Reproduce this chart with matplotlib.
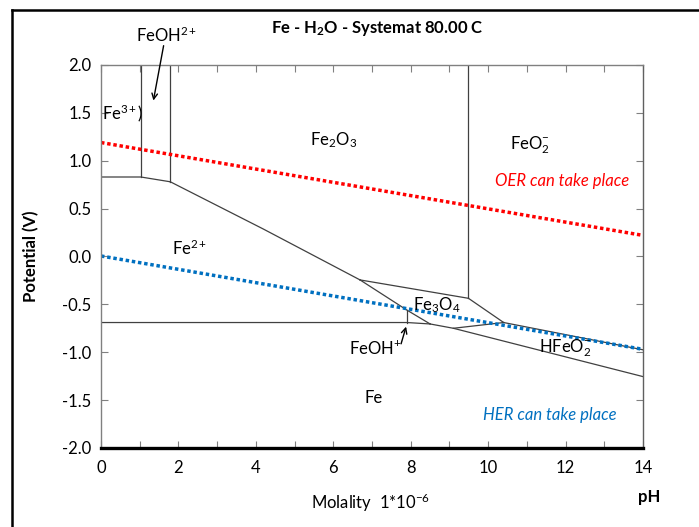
import numpy as np
import matplotlib.pyplot as plt
from matplotlib.lines import Line2D

plt.rcParams['font.family'] = ['Lato', 'DejaVu Sans']
plt.rcParams['mathtext.fontset'] = 'custom'
plt.rcParams['mathtext.rm'] = 'Lato'
plt.rcParams['mathtext.it'] = 'Lato:italic'
plt.rcParams['mathtext.bf'] = 'Lato:bold'

# boundary lines of the Pourbaix diagram (pH, E in V)
fe3_fe2_ph = [0.0, 1.03, 1.79]
fe3_fe2_e = [0.83, 0.83, 0.78]
fe3_feoh_ph = [1.03, 1.03]
fe3_feoh_e = [2.0, 0.83]
feoh_fe2o3_ph = [1.79, 1.79]
feoh_fe2o3_e = [2.0, 0.78]
fe2_fe2o3_ph = [1.79, 4.19, 6.69]
fe2_fe2o3_e = [0.78, 0.287, -0.245]
fe2_fe3o4_ph = [6.69, 7.90, 8.50]
fe2_fe3o4_e = [-0.245, -0.56, -0.705]
fe2o3_fe3o4_ph = [6.69, 9.49]
fe2o3_fe3o4_e = [-0.245, -0.437]
fe2o3_feo2_ph = [9.49, 9.49]
fe2o3_feo2_e = [2.0, -0.437]
fe3o4_feo2_ph = [9.49, 10.40]
fe3o4_feo2_e = [-0.437, -0.69]
hfeo2_feo2_ph = [10.40, 14.0]
hfeo2_feo2_e = [-0.69, -0.975]
fe3o4_hfeo2_ph = [9.10, 10.40]
fe3o4_hfeo2_e = [-0.75, -0.69]
fe2_fe_ph = [0.0, 7.90, 8.50]
fe2_fe_e = [-0.69, -0.69, -0.705]
feoh_v_ph = [7.90, 7.90]
feoh_v_e = [-0.56, -0.69]
fe_low_ph = [8.50, 9.10, 14.0]
fe_low_e = [-0.705, -0.75, -1.255]

# water stability lines
oer_ph = [0.0, 14.0]
oer_e = [1.19, 0.22]
her_ph = [0.0, 14.0]
her_e = [0.005, -0.97]

xticks = [0, 2, 4, 6, 8, 10, 12, 14]
yticks = [2.0, 1.5, 1.0, 0.5, 0.0, -0.5, -1.0, -1.5, -2.0]

fig = plt.figure(figsize=(6.99, 5.27), dpi=100)
ax = fig.add_axes([0.1445, 0.150, 0.7755, 0.7267])

lc = '#404040'
for xs, ys in [(fe3_fe2_ph, fe3_fe2_e), (fe3_feoh_ph, fe3_feoh_e),
               (feoh_fe2o3_ph, feoh_fe2o3_e), (fe2_fe2o3_ph, fe2_fe2o3_e),
               (fe2_fe3o4_ph, fe2_fe3o4_e), (fe2o3_fe3o4_ph, fe2o3_fe3o4_e),
               (fe2o3_feo2_ph, fe2o3_feo2_e), (fe3o4_feo2_ph, fe3o4_feo2_e),
               (hfeo2_feo2_ph, hfeo2_feo2_e), (fe3o4_hfeo2_ph, fe3o4_hfeo2_e),
               (fe2_fe_ph, fe2_fe_e), (feoh_v_ph, feoh_v_e),
               (fe_low_ph, fe_low_e)]:
    ax.plot(xs, ys, color=lc, lw=0.9)

ax.plot(oer_ph, oer_e, color='#ff0000', lw=2.5, ls=(0, (1, 0.8)),
        dash_capstyle='butt')
ax.plot(her_ph, her_e, color='#0070c0', lw=2.5, ls=(0, (1, 0.8)),
        dash_capstyle='butt')

ax.set_xlim(0, 14)
ax.set_ylim(-2.0, 2.0)
ax.set_xticks(xticks)
ax.set_xticks(np.arange(0, 15, 1), minor=True)
ax.set_yticks(yticks)
ax.set_yticklabels(['%.1f' % v for v in yticks])
ax.tick_params(axis='both', which='both', direction='in', top=True,
               right=True, color='#808080', labelsize=12, length=5, width=0.8)
ax.tick_params(axis='x', pad=9)
ax.tick_params(axis='y', pad=7)
for s in ['left', 'top', 'right']:
    ax.spines[s].set_color('#808080')
    ax.spines[s].set_linewidth(1.0)
ax.spines['right'].set_color('#606060')
ax.spines['bottom'].set_color('black')
ax.spines['bottom'].set_linewidth(2.4)

# region labels
fs = 12
ax.text(6.0, 1.22, 'Fe$_2$O$_3$', fontsize=fs, ha='center', va='center')
ax.text(11.08, 1.16, 'FeO$_2^{-}$', fontsize=fs, ha='center', va='center')
ax.text(0.55, 1.5, 'Fe$^{3+}$)', fontsize=fs, ha='center', va='center')
ax.text(2.3, 0.09, 'Fe$^{2+}$', fontsize=fs, ha='center', va='center')
ax.text(8.68, -0.51, 'Fe$_3$O$_4$', fontsize=fs, ha='center', va='center')
ax.text(12.0, -0.955, 'HFeO$_2^{-}$', fontsize=fs, ha='center', va='center')
ax.text(7.03, -1.48, 'Fe', fontsize=fs, ha='center', va='center')
ax.text(7.08, -0.96, 'FeOH$^{+}$', fontsize=fs, ha='center', va='center')
ax.annotate('', xy=(7.90, -0.705), xytext=(7.73, -0.94),
            arrowprops=dict(arrowstyle='->', color='black', lw=1.0))
ax.annotate('', xy=(1.34, 1.60), xytext=(1.63, 2.23),
            arrowprops=dict(arrowstyle='->', color='black', lw=1.0),
            annotation_clip=False)
ax.text(11.9, 0.79, 'OER can take place', fontsize=fs, color='#ff0000',
        style='italic', ha='center', va='center')
ax.text(11.6, -1.655, 'HER can take place', fontsize=fs, color='#0070c0',
        style='italic', ha='center', va='center')

# titles / labels outside the axes
fig.text(167 / 699, 1 - 35 / 527, 'FeOH$^{2+}$', fontsize=fs,
         ha='center', va='center')
fig.text(377 / 699, 1 - 29 / 527, 'Fe - H$_\\mathbf{2}$O - Systemat 80.00 C',
         fontsize=12, fontweight='bold', ha='center', va='center')
fig.text(31 / 699, 0.5 + 0.013, 'Potential (V)', fontsize=12,
         fontweight='bold', rotation=90, ha='center', va='center')
fig.text(371 / 699, 1 - 503 / 527, 'Molality  1*10$^{-6}$', fontsize=12,
         ha='center', va='center')
fig.text(649 / 699, 1 - 497 / 527, 'pH', fontsize=12, fontweight='bold',
         ha='center', va='center')

# outer frame of the sheet
fig.add_artist(Line2D([12 / 699, 12 / 699], [0, 1 - 10 / 527],
                      transform=fig.transFigure, color='black', lw=1.8))
fig.add_artist(Line2D([12 / 699, 1], [1 - 10 / 527, 1 - 10 / 527],
                      transform=fig.transFigure, color='black', lw=1.8))

fig.savefig('out.png', dpi=100)
